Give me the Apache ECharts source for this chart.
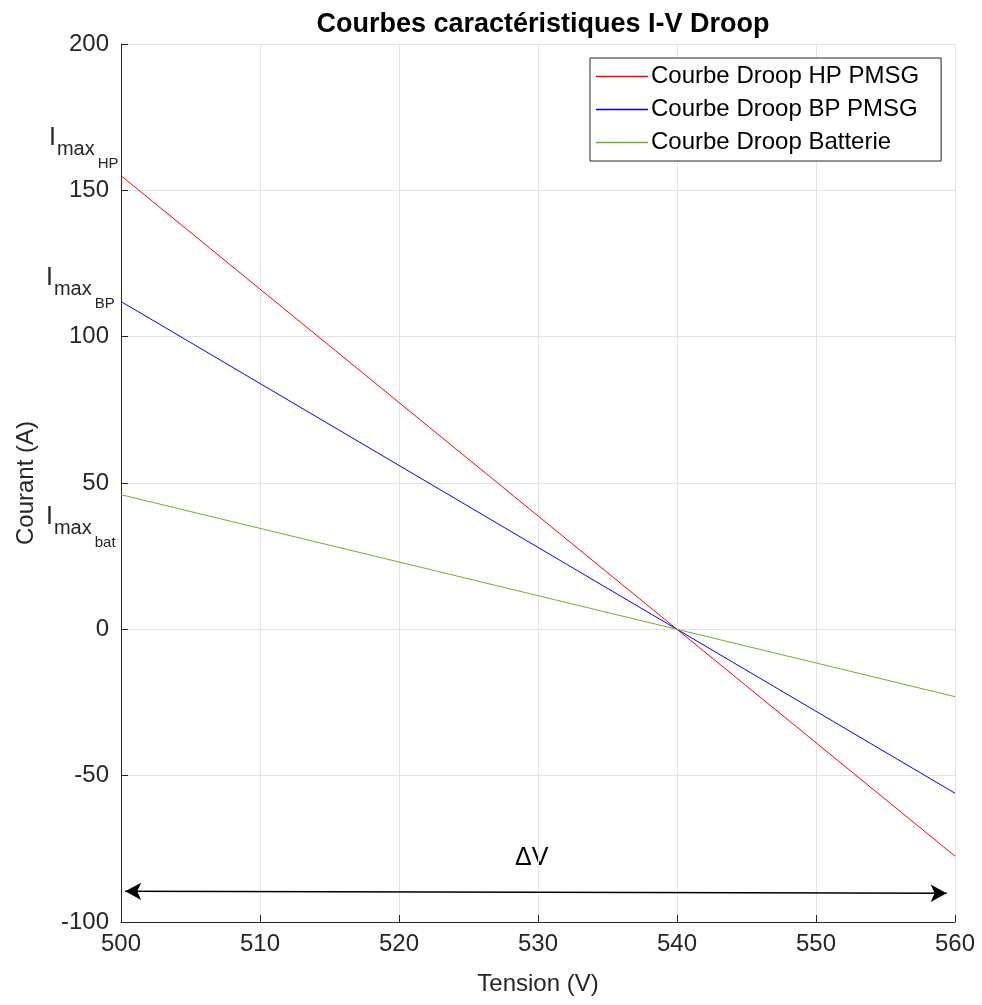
<!DOCTYPE html>
<html>
<head>
<meta charset="utf-8">
<script src="https://cdn.jsdelivr.net/npm/echarts@6/dist/echarts.min.js"></script>
<style>html,body{margin:0;padding:0;background:#fff;}#chart{width:982px;height:1005px;}</style>
</head>
<body>
<div id="chart"></div>
<script>
// Data
const tension = [500, 560];
const droopHP = [155, -77.5];
const droopBP = [112, -56];
const droopBat = [46, -23];
const seriesNames = ['Courbe Droop HP PMSG', 'Courbe Droop BP PMSG', 'Courbe Droop Batterie'];
const arrowStart = [500.3, -89.5];
const arrowEnd = [559.4, -90.2];

const FONT = '"Liberation Sans", Arial, Helvetica, sans-serif';
const chart = echarts.init(document.getElementById('chart'));

function pairs(xs, ys) { return xs.map((x, i) => [x, ys[i]]); }

function imaxLabel(sub, x, y) {
  return {
    type: 'text', left: x, top: y,
    style: {
      text: '{i|I}{m|max}{s|' + sub + '}',
      rich: {
        i: { fontSize: 25, fontFamily: FONT, fill: '#262626', verticalAlign: 'bottom', padding: [0, 1, 20, 0] },
        m: { fontSize: 20, fontFamily: FONT, fill: '#262626', verticalAlign: 'bottom', padding: [0, 0, 12, 0] },
        s: { fontSize: 15, fontFamily: FONT, fill: '#262626', verticalAlign: 'bottom', padding: [0, 0, 0, 3] }
      }
    }
  };
}

const option = {
  animation: false,
  backgroundColor: '#ffffff',
  title: {
    text: 'Courbes caractéristiques I-V Droop',
    left: 538, top: 6, textAlign: 'center',
    textStyle: { fontFamily: FONT, fontWeight: 'bold', fontSize: 27, color: '#000' }
  },
  grid: { left: 121, right: 27, top: 44, bottom: 83, containLabel: false },
  legend: {
    orient: 'vertical', left: 590, top: 58,
    data: seriesNames,
    icon: 'rect',
    backgroundColor: '#fff', borderColor: '#262626', borderWidth: 1, borderRadius: 0,
    padding: [5, 22, 5, 6], itemGap: 6, itemWidth: 52, itemHeight: 1.5,
    textStyle: { fontFamily: FONT, fontSize: 24, color: '#000', padding: [0, 0, 0, -2], lineHeight: 27 }
  },
  xAxis: {
    type: 'value', min: 500, max: 560, interval: 10,
    name: 'Tension (V)', nameLocation: 'middle', nameGap: 50,
    nameTextStyle: { fontFamily: FONT, fontSize: 24, color: '#262626' },
    axisLine: { show: true, onZero: false, lineStyle: { color: '#262626', width: 1 } },
    axisTick: { show: true, inside: true, length: 7, lineStyle: { color: '#262626' } },
    axisLabel: { fontFamily: FONT, fontSize: 24, color: '#262626', margin: 10 },
    splitLine: { show: true, lineStyle: { color: '#e3e3e3', width: 1 } }
  },
  yAxis: {
    type: 'value', min: -100, max: 200, interval: 50,
    name: 'Courant (A)', nameLocation: 'middle', nameGap: 83,
    nameTextStyle: { fontFamily: FONT, fontSize: 24, color: '#262626' },
    axisLine: { show: true, onZero: false, lineStyle: { color: '#262626', width: 1 } },
    axisTick: { show: true, inside: true, length: 7, lineStyle: { color: '#262626' } },
    axisLabel: { fontFamily: FONT, fontSize: 24, color: '#262626', margin: 12 },
    splitLine: { show: true, lineStyle: { color: '#e3e3e3', width: 1 } }
  },
  series: [
    { name: seriesNames[0], type: 'line', data: pairs(tension, droopHP), symbol: 'none', lineStyle: { color: '#ff0000', width: 1 }, itemStyle: { color: '#ff0000' } },
    { name: seriesNames[1], type: 'line', data: pairs(tension, droopBP), symbol: 'none', lineStyle: { color: '#0000ff', width: 1 }, itemStyle: { color: '#0000ff' } },
    { name: seriesNames[2], type: 'line', data: pairs(tension, droopBat), symbol: 'none', lineStyle: { color: '#77ac30', width: 1 }, itemStyle: { color: '#77ac30' } },
    {
      name: 'arrow', type: 'line', data: [], symbol: 'none',
      markLine: {
        silent: true, symbol: ['arrow', 'arrow'], symbolSize: [13, 16],
        label: { show: false },
        lineStyle: { color: '#000', width: 1.5, type: 'solid' },
        data: [[{ coord: arrowStart }, { coord: arrowEnd }]]
      }
    }
  ],
  graphic: [
    imaxLabel('HP', 49, 126),
    imaxLabel('BP', 46, 266),
    imaxLabel('bat', 46, 505),
    { type: 'text', left: 515, top: 846, style: { text: 'ΔV', fontFamily: FONT, fontSize: 25, fill: '#000' } }
  ]
};
chart.setOption(option);
</script>
</body>
</html>
